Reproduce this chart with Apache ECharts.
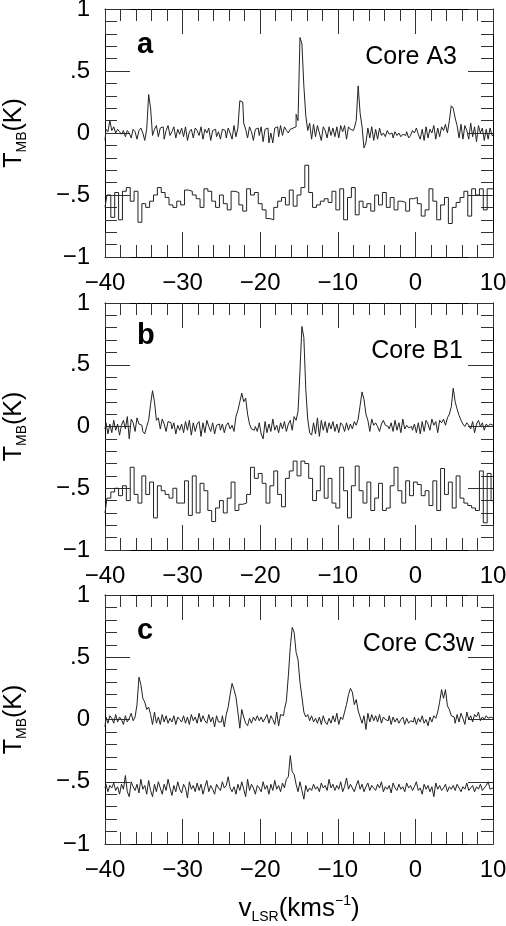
<!DOCTYPE html>
<html>
<head>
<meta charset="utf-8">
<script src="https://cdn.jsdelivr.net/npm/echarts@6/dist/echarts.min.js"></script>
<style>
  html, body { margin: 0; padding: 0; background: #fff; }
  #chart { width: 506px; height: 926px; }
</style>
</head>
<body>
<div id="chart"></div>
<script>
// channel grids of the spectra (km/s)
var velStart = -40;
var fineStep = 0.25;
var coarseStep = 0.5;

// Core A3
var a3Line = [
  -0.06, 0.03, 0.01, 0.10, 0.02, 0.05, 0.00, 0.03, 0.01, -0.01, 0.02, -0.03, 0.02, 0.00, -0.04, 0.03, 0.01, -0.05, 0.02, 0.04,
  0.00, -0.06, 0.03, 0.31, 0.20, -0.02, 0.03, 0.06, -0.03, 0.04, 0.05, -0.05, 0.02, 0.06, -0.02, 0.01, 0.05, -0.04, 0.03, -0.01,
  0.04, -0.03, 0.05, -0.06, 0.01, 0.03, -0.04, 0.04, 0.02, -0.02, 0.05, -0.05, 0.03, 0.00, 0.04, -0.06, 0.02, 0.03, -0.03, 0.01,
  -0.05, 0.03, 0.02, -0.04, 0.04, 0.00, -0.05, 0.06, -0.03, 0.04, 0.26, 0.25, 0.08, 0.03, -0.04, 0.05, 0.01, -0.06, 0.03, 0.04,
  -0.02, 0.05, -0.07, 0.03, 0.04, -0.08, 0.00, -0.08, 0.04, 0.05, -0.03, 0.06, -0.02, 0.05, 0.02, 0.00, 0.03, 0.04, 0.05, 0.15,
  0.10, 0.77, 0.72, 0.38, 0.14, 0.02, 0.08, -0.05, 0.07, -0.03, 0.06, 0.00, -0.06, 0.05, 0.02, -0.04, 0.05, -0.02, 0.04, -0.03,
  0.05, -0.04, 0.06, 0.01, 0.06, -0.05, 0.05, 0.03, 0.02, 0.04, 0.10, 0.38, 0.16, 0.05, -0.12, -0.08, 0.04, -0.04, 0.05, -0.06,
  0.03, -0.05, 0.04, -0.02, 0.00, -0.03, 0.02, -0.01, 0.00, -0.04, 0.01, -0.02, 0.00, -0.03, -0.01, -0.02, 0.01, -0.04, -0.02, 0.02,
  0.00, 0.04, -0.01, -0.05, 0.03, -0.06, 0.05, -0.04, 0.03, 0.00, 0.06, -0.05, 0.04, -0.03, 0.05, 0.02, 0.07, 0.00, 0.10, 0.22,
  0.20, 0.12, 0.06, -0.04, 0.07, -0.05, 0.06, 0.02, -0.05, 0.08, -0.03, 0.05, -0.07, 0.06, 0.00, 0.04, -0.06, 0.03, -0.05, 0.04,
  -0.02
];
var a3Off = [
  -0.60, -0.50, -0.68, -0.48, -0.70, -0.47, -0.44, -0.55, -0.47, -0.72, -0.57, -0.60, -0.55, -0.50, -0.44, -0.48, -0.52, -0.58, -0.60, -0.55,
  -0.58, -0.46, -0.47, -0.50, -0.53, -0.60, -0.45, -0.47, -0.55, -0.60, -0.50, -0.57, -0.62, -0.47, -0.48, -0.58, -0.63, -0.45, -0.50, -0.48,
  -0.57, -0.62, -0.69, -0.70, -0.60, -0.55, -0.52, -0.58, -0.46, -0.59, -0.50, -0.44, -0.26, -0.48, -0.60, -0.58, -0.55, -0.53, -0.56, -0.47,
  -0.62, -0.45, -0.70, -0.52, -0.44, -0.66, -0.55, -0.60, -0.57, -0.63, -0.50, -0.58, -0.48, -0.60, -0.52, -0.62, -0.55, -0.56, -0.63, -0.53,
  -0.52, -0.57, -0.67, -0.62, -0.45, -0.55, -0.70, -0.58, -0.52, -0.73, -0.60, -0.56, -0.52, -0.47, -0.67, -0.45, -0.50, -0.45, -0.62, -0.45,
  -0.45
];

// Core B1
var b1Line = [
  -0.02, 0.03, -0.06, 0.02, -0.05, 0.05, -0.03, 0.02, -0.07, 0.01, 0.05, -0.02, 0.08, -0.10, 0.06, 0.03, -0.04, 0.07, 0.02, 0.01,
  -0.04, -0.06, 0.00, 0.05, 0.18, 0.29, 0.20, 0.05, 0.07, -0.02, 0.06, 0.02, -0.04, 0.04, 0.03, -0.02, 0.03, -0.06, 0.01, -0.03,
  0.02, -0.05, 0.04, -0.03, 0.05, -0.07, 0.03, -0.04, 0.02, 0.04, -0.08, 0.03, -0.05, 0.05, 0.00, -0.04, 0.03, -0.06, 0.01, 0.02,
  -0.03, 0.02, -0.05, 0.01, 0.03, -0.02, 0.01, -0.04, 0.08, 0.13, 0.20, 0.27, 0.20, 0.23, 0.10, 0.02, -0.02, -0.03, 0.00, -0.04,
  0.03, -0.06, -0.10, 0.04, -0.05, 0.02, -0.04, 0.06, -0.03, 0.01, -0.05, 0.03, -0.02, 0.04, -0.04, 0.02, 0.05, -0.03, 0.08, 0.05,
  0.12, 0.45, 0.81, 0.72, 0.30, 0.06, -0.05, -0.07, 0.03, -0.06, 0.07, -0.08, 0.05, -0.03, 0.04, -0.05, 0.03, -0.02, 0.04, -0.04,
  0.02, -0.05, 0.03, 0.01, -0.04, 0.03, -0.03, 0.02, -0.02, 0.04, 0.01, 0.06, 0.17, 0.28, 0.22, 0.10, 0.05, -0.04, 0.06, 0.01,
  0.03, 0.00, -0.04, 0.02, 0.05, 0.01, 0.00, -0.02, 0.03, -0.04, 0.05, -0.03, 0.03, -0.05, 0.06, -0.02, 0.01, -0.01, 0.00, -0.03,
  0.02, -0.05, 0.03, -0.06, 0.04, -0.04, 0.05, 0.02, -0.03, 0.06, 0.01, 0.04, -0.05, 0.05, 0.03, 0.06, 0.01, 0.07, 0.10, 0.16,
  0.31, 0.20, 0.14, 0.09, 0.05, 0.02, 0.00, 0.03, 0.01, -0.02, 0.04, -0.05, 0.02, 0.05, 0.00, 0.03, -0.03, 0.02, 0.00, 0.02,
  0.01
];
var b1Off = [
  -0.70, -0.58, -0.53, -0.50, -0.56, -0.48, -0.60, -0.33, -0.55, -0.62, -0.40, -0.55, -0.45, -0.74, -0.48, -0.52, -0.55, -0.58, -0.50, -0.62,
  -0.62, -0.44, -0.72, -0.40, -0.70, -0.46, -0.52, -0.68, -0.77, -0.66, -0.60, -0.70, -0.58, -0.45, -0.68, -0.63, -0.62, -0.55, -0.33, -0.42,
  -0.38, -0.46, -0.62, -0.48, -0.36, -0.55, -0.65, -0.42, -0.36, -0.28, -0.40, -0.28, -0.30, -0.42, -0.60, -0.52, -0.32, -0.58, -0.42, -0.62,
  -0.66, -0.33, -0.52, -0.74, -0.48, -0.32, -0.52, -0.62, -0.45, -0.68, -0.58, -0.46, -0.68, -0.66, -0.48, -0.33, -0.52, -0.62, -0.44, -0.56,
  -0.45, -0.47, -0.56, -0.52, -0.64, -0.44, -0.68, -0.34, -0.55, -0.45, -0.66, -0.40, -0.58, -0.62, -0.64, -0.66, -0.68, -0.36, -0.78, -0.38,
  -0.60
];

// Core C3w
var c3Line = [
  -0.06, 0.02, -0.03, 0.03, 0.01, -0.03, 0.04, -0.02, 0.02, 0.00, -0.04, 0.03, -0.02, 0.01, 0.05, -0.01, 0.02, 0.12, 0.34, 0.28,
  0.17, 0.14, 0.08, 0.10, 0.04, -0.04, 0.06, -0.03, 0.02, -0.04, 0.04, -0.02, 0.03, -0.03, 0.01, -0.02, 0.03, -0.04, 0.02, 0.00,
  -0.02, 0.03, -0.03, 0.02, -0.04, 0.04, -0.01, 0.02, -0.03, 0.05, -0.02, 0.03, -0.01, -0.03, 0.04, -0.02, 0.02, -0.06, 0.03, -0.02,
  -0.02, 0.03, -0.06, 0.04, 0.10, 0.20, 0.29, 0.24, 0.18, 0.06, -0.07, 0.08, 0.02, -0.03, -0.05, 0.01, -0.03, 0.02, -0.01, 0.03,
  -0.01, 0.02, -0.02, 0.01, 0.04, -0.03, 0.03, 0.00, -0.04, 0.06, -0.05, 0.04, 0.03, 0.08, 0.15, 0.35, 0.58, 0.74, 0.70, 0.54,
  0.48, 0.30, 0.18, 0.06, 0.02, 0.04, -0.01, 0.03, -0.02, 0.01, -0.03, 0.02, -0.04, 0.03, -0.02, -0.04, 0.01, -0.03, 0.03, -0.02,
  0.05, -0.04, 0.02, 0.00, 0.06, 0.12, 0.20, 0.25, 0.22, 0.12, 0.16, 0.07, 0.02, -0.03, 0.03, -0.08, 0.05, -0.02, 0.04, -0.01,
  0.03, -0.02, 0.04, -0.03, 0.02, 0.00, -0.01, 0.03, -0.04, 0.02, -0.02, 0.01, -0.03, 0.00, 0.02, -0.04, 0.01, -0.03, -0.01, -0.02,
  0.02, -0.04, 0.01, -0.02, 0.03, -0.03, 0.00, -0.05, 0.02, -0.02, 0.03, 0.01, 0.06, 0.14, 0.24, 0.17, 0.24, 0.11, 0.08, 0.03,
  0.02, -0.03, 0.04, -0.02, 0.05, 0.01, -0.04, 0.06, 0.00, 0.03, -0.02, 0.04, 0.02, 0.06, -0.01, 0.02, 0.00, 0.03, 0.01, 0.02,
  0.01
];
var c3Off = [
  -0.55, -0.52, -0.58, -0.53, -0.55, -0.51, -0.57, -0.54, -0.60, -0.52, -0.56, -0.45, -0.58, -0.62, -0.50, -0.54, -0.57, -0.52, -0.59, -0.48,
  -0.56, -0.53, -0.60, -0.49, -0.57, -0.62, -0.52, -0.58, -0.50, -0.55, -0.60, -0.52, -0.57, -0.48, -0.55, -0.61, -0.53, -0.58, -0.50, -0.56,
  -0.59, -0.52, -0.55, -0.63, -0.50, -0.56, -0.53, -0.58, -0.51, -0.57, -0.52, -0.60, -0.54, -0.49, -0.58, -0.53, -0.56, -0.60, -0.52, -0.55,
  -0.57, -0.50, -0.55, -0.53, -0.46, -0.55, -0.58, -0.54, -0.60, -0.52, -0.57, -0.50, -0.56, -0.62, -0.48, -0.57, -0.52, -0.55, -0.60, -0.53,
  -0.55, -0.58, -0.50, -0.56, -0.53, -0.60, -0.52, -0.57, -0.49, -0.56, -0.53, -0.58, -0.51, -0.55, -0.48, -0.46, -0.29, -0.42, -0.44, -0.52,
  -0.58, -0.50, -0.57, -0.64, -0.53, -0.58, -0.55, -0.57, -0.52, -0.56, -0.54, -0.58, -0.51, -0.55, -0.53, -0.57, -0.48, -0.55, -0.52, -0.57,
  -0.53, -0.56, -0.50, -0.58, -0.54, -0.47, -0.56, -0.52, -0.55, -0.58, -0.53, -0.49, -0.56, -0.52, -0.58, -0.54, -0.51, -0.57, -0.53, -0.55,
  -0.57, -0.52, -0.55, -0.50, -0.58, -0.54, -0.56, -0.53, -0.59, -0.51, -0.55, -0.57, -0.52, -0.56, -0.54, -0.58, -0.51, -0.55, -0.53, -0.57,
  -0.54, -0.50, -0.57, -0.55, -0.60, -0.52, -0.56, -0.53, -0.58, -0.54, -0.62, -0.51, -0.56, -0.53, -0.57, -0.55, -0.52, -0.58, -0.54, -0.56,
  -0.53, -0.57, -0.52, -0.55, -0.58, -0.54, -0.56, -0.51, -0.57, -0.55, -0.53, -0.58, -0.54, -0.56, -0.52, -0.57, -0.55, -0.53, -0.50, -0.56,
  -0.55
];

var panelLetters = ['a', 'b', 'c'];
var coreNames = ['Core A3', 'Core B1', 'Core C3w'];
var xTicks = [-40, 10, 10];   // min, max, interval
var yTicks = [-1, 1, 0.5];

var FONT = '"Liberation Sans", Arial, Helvetica, sans-serif';
var INK = '#222';

function toPairs(vals, step) {
  return vals.map(function (y, i) { return [velStart + i * step, y]; });
}

function yLabel(v) {
  if (v === 0) return '0';
  var s = String(Math.abs(v)).replace(/^0\./, '.');
  return (v < 0 ? '\u2212' : '') + s;
}
function xLabel(v) {
  return (v < 0 ? '\u2212' : '') + Math.abs(v);
}

var grids = [
  { left: 105, top: 9, width: 388, height: 248, outerBoundsMode: 'none', containLabel: false },
  { left: 105, top: 303, width: 388, height: 247, outerBoundsMode: 'none', containLabel: false },
  { left: 105, top: 595, width: 388, height: 249, outerBoundsMode: 'none', containLabel: false }
];
var spectra = [
  [toPairs(a3Line, fineStep), toPairs(a3Off, coarseStep)],
  [toPairs(b1Line, fineStep), toPairs(b1Off, coarseStep)],
  [toPairs(c3Line, fineStep), toPairs(c3Off, fineStep)]
];

var rich = {
  t: { fontFamily: FONT, fontSize: 25, color: '#000', lineHeight: 30 },
  tx: { fontFamily: FONT, fontSize: 26, color: '#000', lineHeight: 30 },
  sub: { fontFamily: FONT, fontSize: 14, color: '#000', lineHeight: 14, verticalAlign: 'bottom' },
  sup: { fontFamily: FONT, fontSize: 14, color: '#000', lineHeight: 14, verticalAlign: 'top' }
};

function axisCommon(isMain) {
  return {
    axisLine: { show: true, onZero: false, lineStyle: { color: '#000', width: 1 } },
    axisTick: { show: true, inside: true, length: 25, lineStyle: { color: '#333', width: 1 } },
    minorTick: { show: true, splitNumber: 5, length: 12, lineStyle: { color: '#333', width: 1 } },
    splitLine: { show: false },
    axisLabel: { show: isMain }
  };
}

var xAxes = [], yAxes = [], series = [];
grids.forEach(function (g, i) {
  var xb = axisCommon(true);
  xb.type = 'value'; xb.gridIndex = i; xb.position = 'bottom';
  xb.min = xTicks[0]; xb.max = xTicks[1]; xb.interval = xTicks[2];
  xb.axisLabel = { show: true, margin: 14, fontFamily: FONT, fontSize: 24, color: '#000', formatter: xLabel };
  if (i === 2) {
    xb.name = '{tx|v}{sub|LSR}{tx|(kms}{sup|\u22121}{tx|)}';
    xb.nameLocation = 'middle';
    xb.nameGap = 50;
    xb.nameTextStyle = { rich: rich };
  }
  var xt = axisCommon(false);
  xt.type = 'value'; xt.gridIndex = i; xt.position = 'top';
  xt.min = xTicks[0]; xt.max = xTicks[1]; xt.interval = xTicks[2];

  var yl = axisCommon(true);
  yl.type = 'value'; yl.gridIndex = i; yl.position = 'left';
  yl.min = yTicks[0]; yl.max = yTicks[1]; yl.interval = yTicks[2];
  yl.axisLabel = { show: true, margin: 15, fontFamily: FONT, fontSize: 24, color: '#000', formatter: yLabel };
  yl.name = '{t|T}{sub|MB}{t|(K)}';
  yl.nameLocation = 'middle';
  yl.nameRotate = 90;
  yl.nameGap = 76;
  yl.nameTextStyle = { rich: rich };
  var yr = axisCommon(false);
  yr.type = 'value'; yr.gridIndex = i; yr.position = 'right';
  yr.min = yTicks[0]; yr.max = yTicks[1]; yr.interval = yTicks[2];

  xAxes.push(xb, xt);
  yAxes.push(yl, yr);

  spectra[i].forEach(function (d) {
    series.push({
      type: 'line', step: 'middle', data: d,
      xAxisIndex: 2 * i, yAxisIndex: 2 * i,
      showSymbol: false, silent: true,
      lineStyle: { color: INK, width: 1 }
    });
  });
});

// panel letters and core names
var letterPos = [[137, 45], [137, 336], [137, 631]];
var namePos = [[457, 57], [463, 351], [474, 644]];
var graphics = [];
for (var k = 0; k < 3; k++) {
  graphics.push({
    type: 'text', x: letterPos[k][0], y: letterPos[k][1], silent: true,
    style: { text: panelLetters[k], fontFamily: FONT, fontSize: 29, fontWeight: 'bold', fill: '#000', verticalAlign: 'middle', align: 'left' }
  });
  graphics.push({
    type: 'text', x: namePos[k][0], y: namePos[k][1], silent: true,
    style: { text: coreNames[k], fontFamily: FONT, fontSize: 25, fill: '#000', verticalAlign: 'middle', align: 'right' }
  });
}

var myChart = echarts.init(document.getElementById('chart'));
myChart.setOption({
  backgroundColor: '#fff',
  animation: false,
  grid: grids,
  xAxis: xAxes,
  yAxis: yAxes,
  series: series,
  graphic: graphics
});
</script>
</body>
</html>
